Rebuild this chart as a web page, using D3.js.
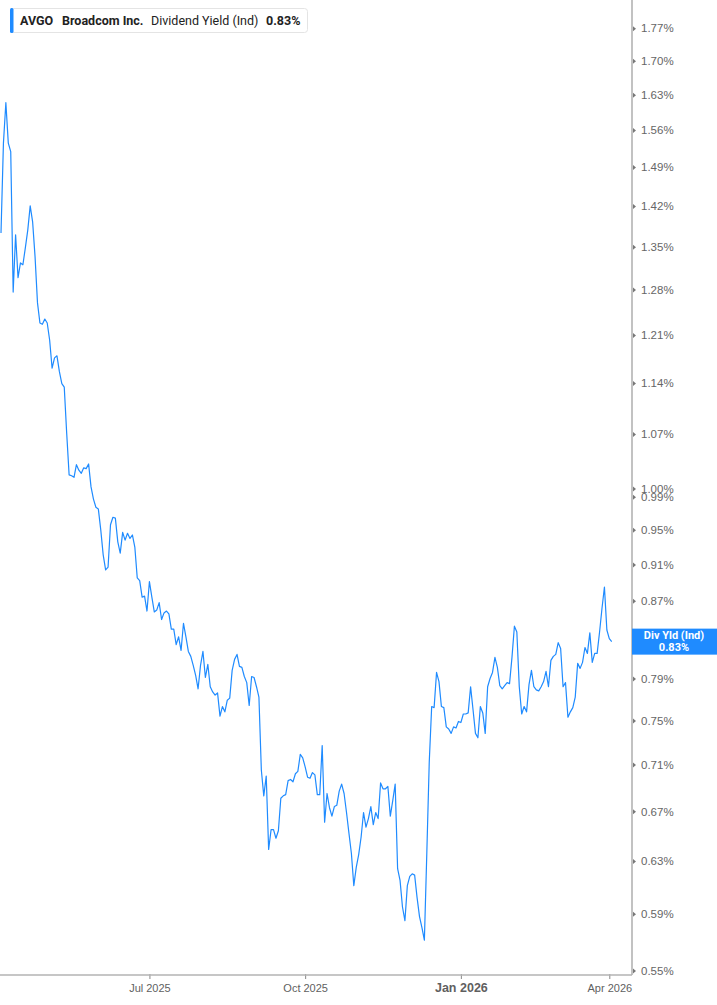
<!DOCTYPE html>
<html>
<head>
<meta charset="utf-8">
<script src="https://cdn.jsdelivr.net/npm/d3@7"></script>
<style>
  body { margin: 0; background: #fff; }
  svg { display: block; font-family: Roboto, "Noto Sans", sans-serif; }
</style>
</head>
<body>
<div class="chart"></div>
<script>
// daily dividend yield (%), one value per trading day, Apr 2 2025 onward
const yields = [
  1.373, 1.535, 1.614, 1.535, 1.519, 1.276, 1.370, 1.299, 1.323, 1.320,
  1.348, 1.378, 1.420, 1.392, 1.333, 1.259, 1.228, 1.226, 1.234, 1.228,
  1.202, 1.161, 1.176, 1.179, 1.156, 1.139, 1.134, 1.071, 1.017, 1.016,
  1.014, 1.030, 1.023, 1.019, 1.026, 1.025, 1.031, 1.002, 0.987, 0.977,
  0.975, 0.950, 0.921, 0.904, 0.907, 0.956, 0.965, 0.964, 0.936, 0.923,
  0.947, 0.938, 0.946, 0.940, 0.944, 0.930, 0.895, 0.892, 0.874, 0.875,
  0.859, 0.891, 0.874, 0.858, 0.860, 0.868, 0.850, 0.857, 0.859, 0.856,
  0.840, 0.840, 0.824, 0.832, 0.818, 0.846, 0.832, 0.817, 0.812, 0.803,
  0.793, 0.780, 0.803, 0.817, 0.791, 0.804, 0.782, 0.777, 0.774, 0.776,
  0.754, 0.763, 0.758, 0.769, 0.771, 0.798, 0.809, 0.814, 0.802, 0.801,
  0.792, 0.786, 0.764, 0.792, 0.791, 0.782, 0.772, 0.705, 0.683, 0.700,
  0.639, 0.655, 0.655, 0.648, 0.654, 0.681, 0.683, 0.684, 0.696, 0.697,
  0.695, 0.702, 0.704, 0.719, 0.716, 0.708, 0.699, 0.698, 0.703, 0.701,
  0.684, 0.684, 0.727, 0.661, 0.685, 0.673, 0.666, 0.674, 0.675, 0.687,
  0.693, 0.685, 0.669, 0.652, 0.636, 0.611, 0.625, 0.635, 0.649, 0.669,
  0.657, 0.664, 0.674, 0.659, 0.669, 0.664, 0.694, 0.689, 0.689, 0.691,
  0.666, 0.679, 0.693, 0.624, 0.615, 0.595, 0.585, 0.611, 0.618, 0.620,
  0.619, 0.602, 0.588, 0.580, 0.571, 0.636, 0.712, 0.763, 0.762, 0.796,
  0.787, 0.763, 0.762, 0.744, 0.742, 0.738, 0.744, 0.743, 0.749, 0.748,
  0.756, 0.756, 0.757, 0.782, 0.760, 0.738, 0.734, 0.763, 0.757, 0.738,
  0.782, 0.790, 0.796, 0.811, 0.801, 0.783, 0.780, 0.783, 0.786, 0.785,
  0.811, 0.843, 0.837, 0.782, 0.756, 0.763, 0.758, 0.784, 0.798, 0.782,
  0.779, 0.778, 0.782, 0.787, 0.797, 0.782, 0.808, 0.812, 0.814, 0.826,
  0.820, 0.782, 0.786, 0.753, 0.758, 0.762, 0.772, 0.805, 0.800, 0.806,
  0.821, 0.815, 0.836, 0.806, 0.815, 0.815, 0.837, 0.862, 0.885, 0.839,
  0.830, 0.827
];

// x axis: trading-day index of each month label
const xTickDays = [61, 125, 189, 250];
const xTickLabels = ['Jul 2025', 'Oct 2025', 'Jan 2026', 'Apr 2026'];

// y axis ticks (log scale)
const yTicks = [1.77, 1.70, 1.63, 1.56, 1.49, 1.42, 1.35, 1.28, 1.21, 1.14, 1.07,
  1.00, 0.99, 0.95, 0.91, 0.87, 0.79, 0.75, 0.71, 0.67, 0.63, 0.59, 0.55];

const ticker = 'AVGO';
const company = 'Broadcom Inc.';
const seriesName = 'Dividend Yield (Ind)';
const shortName = 'Div Yld (Ind)';

const SVGWIDTH = 717;
const SVGHEIGHT = 1005;
const PLOTRIGHT = 632;
const PLOTBOTTOM = 975;
const BLUE = '#1f8bff';

let svg = d3.select('.chart')
  .append('svg')
  .attr('width', SVGWIDTH)
  .attr('height', SVGHEIGHT);

let xScale = d3.scaleLinear()
  .domain([0, 250])
  .range([1, 609.3]);

let yScale = d3.scaleLog()
  .domain([0.55, 1.77])
  .range([970.4, 28.3]);

// line
let line = d3.line()
  .x((d, i) => xScale(i))
  .y(d => yScale(d));

svg.append('path')
  .datum(yields)
  .attr('d', line)
  .attr('fill', 'none')
  .attr('stroke', BLUE)
  .attr('stroke-width', 1.2)
  .attr('stroke-linejoin', 'round');

// bottom axis
let bottomAxis = d3.axisBottom(xScale)
  .tickValues(xTickDays)
  .tickSize(4)
  .tickFormat((d, i) => xTickLabels[i]);

let xAxis = svg.append('g')
  .attr('transform', `translate(0, ${PLOTBOTTOM})`)
  .call(bottomAxis);

xAxis.select('.domain').remove();
xAxis.append('line')
  .attr('x1', 0).attr('x2', PLOTRIGHT)
  .attr('y1', 0).attr('y2', 0)
  .attr('stroke', '#b3b3b3')
  .attr('stroke-width', 1.6);
xAxis.selectAll('.tick line')
  .attr('stroke', '#888')
  .attr('y1', -1);
xAxis.selectAll('.tick text')
  .attr('y', 17)
  .attr('dy', 0)
  .attr('fill', '#5f5f5f')
  .style('font-size', (d, i) => i === 2 ? '12.5px' : '11px')
  .style('font-weight', (d, i) => i === 2 ? 'bold' : 'normal');

// right axis
let rightAxis = d3.axisRight(yScale)
  .tickValues(yTicks)
  .tickSize(0)
  .tickPadding(9)
  .tickFormat(d => d.toFixed(2) + '%');

let yAxis = svg.append('g')
  .attr('transform', `translate(${PLOTRIGHT}, 0)`)
  .call(rightAxis);

yAxis.select('.domain').remove();
yAxis.append('line')
  .attr('x1', 0).attr('x2', 0)
  .attr('y1', 0).attr('y2', PLOTBOTTOM)
  .attr('stroke', '#b3b3b3')
  .attr('stroke-width', 1.6);
yAxis.selectAll('.tick')
  .append('path')
  .attr('d', 'M1,-2.5L4,0L1,2.5Z')
  .attr('fill', '#777');
yAxis.selectAll('.tick text')
  .attr('fill', '#666')
  .style('font-size', '11.5px');

// last value label
let last = yields[yields.length - 1];
let ly = yScale(last);
svg.append('rect')
  .attr('x', PLOTRIGHT)
  .attr('y', ly - 13)
  .attr('width', SVGWIDTH - PLOTRIGHT)
  .attr('height', 26)
  .attr('fill', BLUE);
svg.append('text')
  .attr('x', 674)
  .attr('y', ly - 2.5)
  .attr('text-anchor', 'middle')
  .attr('fill', '#fff')
  .style('font-size', '11px')
  .style('font-weight', 'bold')
  .text(shortName);
svg.append('text')
  .attr('x', 674)
  .attr('y', ly + 9.5)
  .attr('text-anchor', 'middle')
  .attr('fill', '#fff')
  .style('font-size', '11px')
  .style('font-weight', 'bold')
  .text(last.toFixed(2) + '%');

// header legend
let legend = svg.append('g');
legend.append('rect')
  .attr('x', 10.5).attr('y', 8.5)
  .attr('width', 297).attr('height', 24)
  .attr('rx', 3)
  .attr('fill', '#fff')
  .attr('stroke', '#e4e4e4');
legend.append('rect')
  .attr('x', 10).attr('y', 8)
  .attr('width', 3.5).attr('height', 25)
  .attr('rx', 1.5)
  .attr('fill', BLUE);

let legendItems = [
  { x: 20, text: ticker, bold: true },
  { x: 62, text: company, bold: true },
  { x: 151, text: seriesName, bold: false },
  { x: 266, text: last.toFixed(2) + '%', bold: true }
];
legend.selectAll('text.item')
  .data(legendItems)
  .enter()
  .append('text')
  .attr('class', 'item')
  .attr('x', d => d.x)
  .attr('y', 25)
  .attr('fill', '#222')
  .style('font-size', '12.5px')
  .style('font-weight', d => d.bold ? 'bold' : 'normal')
  .text(d => d.text);
</script>
</body>
</html>
